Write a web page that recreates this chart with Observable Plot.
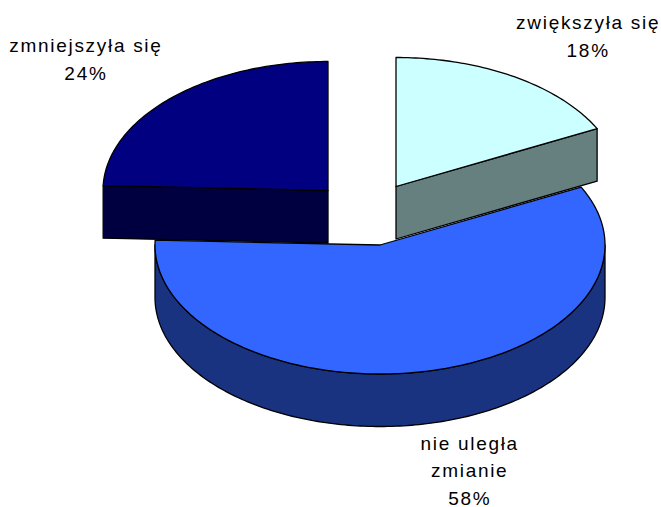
<!DOCTYPE html>
<html>
<head>
<meta charset="utf-8">
<script src="https://cdn.jsdelivr.net/npm/d3@7"></script>
<script src="https://cdn.jsdelivr.net/npm/@observablehq/plot@0.6"></script>
<style>html,body{margin:0;padding:0;background:#fff}svg{display:block}</style>
</head>
<body>
<div id="chart"></div>
<script>
// Data (clockwise from 12 o'clock)
const categories = ["zwiększyła się", "nie uległa\nzmianie", "zmniejszyła się"];
const shares = [17.6, 58.0, 24.4];
const percentLabels = ["18%", "58%", "24%"];

// Colours
const topColors = ["#CCFFFF", "#3366FF", "#000080"];
const sideColors = ["#668080", "#1A3380", "#000040"];

// Pie layout
const centers = [[395.5, 186], [379.5, 244.5], [327.5, 190]];
const labelOffsets = [[74, -67], [42, 59], [-86, -65]];
const rx = 225, ry = 129, depth = 52.5;

const rad = d => d * Math.PI / 180;
const rim = (c, a, drop = 0) => ({x: c[0] + rx * Math.sin(rad(a)), y: c[1] - ry * Math.cos(rad(a)) + drop});
const arcPts = (c, a0, a1, drop = 0) => {
  const n = Math.max(2, Math.ceil(Math.abs(a1 - a0)));
  return d3.range(n + 1).map(i => rim(c, a0 + (a1 - a0) * i / n, drop));
};

let acc = 0;
const slices = shares.map((s, i) => {
  const a0 = acc * 3.6; acc += s; const a1 = acc * 3.6;
  return {i, a0, a1, c: centers[i]};
});

const closed = pts => [...pts, pts[0]];
const poly = (pts, fill) => Plot.line(closed(pts), {x: "x", y: "y", fill, stroke: "#000", strokeWidth: 1.3, strokeLinejoin: "round"});

const topFace = s => {
  const apex = {x: s.c[0], y: s.c[1]};
  return poly([apex, ...arcPts(s.c, s.a0, s.a1)], topColors[s.i]);
};
// Outer curved wall, visible only on the front half of the ellipse
const curvedWall = s => {
  const a0 = Math.max(s.a0, 90), a1 = Math.min(s.a1, 270);
  if (a1 <= a0) return null;
  return poly([...arcPts(s.c, a0, a1), ...arcPts(s.c, a1, a0, depth)], sideColors[s.i]);
};
// Flat radial wall facing the viewer
const radialWall = (s, a) => {
  const apex = {x: s.c[0], y: s.c[1]};
  const r = rim(s.c, a);
  return poly([apex, r, {x: r.x, y: r.y + depth}, {x: apex.x, y: apex.y + depth}], sideColors[s.i]);
};

const [light, main, dark] = slices;

const labelData = slices.map(s => {
  const mid = (s.a0 + s.a1) / 2;
  const p = rim(s.c, mid);
  return {x: p.x + labelOffsets[s.i][0], y: p.y + labelOffsets[s.i][1], text: categories[s.i] + "\n" + percentLabels[s.i]};
});

const chart = Plot.plot({
  width: 661,
  height: 507,
  margin: 0,
  x: {axis: null, domain: [0, 661], range: [0, 661]},
  y: {axis: null, domain: [0, 507], range: [0, 507]},
  style: {background: "#fff", letterSpacing: "1.7px"},
  marks: [
    curvedWall(main),
    topFace(main),
    radialWall(dark, dark.a0),
    topFace(dark),
    radialWall(light, light.a1),
    topFace(light),
    Plot.text(labelData, {
      x: "x", y: "y", text: "text",
      textAnchor: "middle", lineAnchor: "top", lineHeight: 1.45,
      fontSize: 19, fontFamily: "Liberation Sans, Arial, sans-serif", fill: "#000"
    })
  ]
});
document.getElementById("chart").appendChild(chart);
</script>
</body>
</html>
